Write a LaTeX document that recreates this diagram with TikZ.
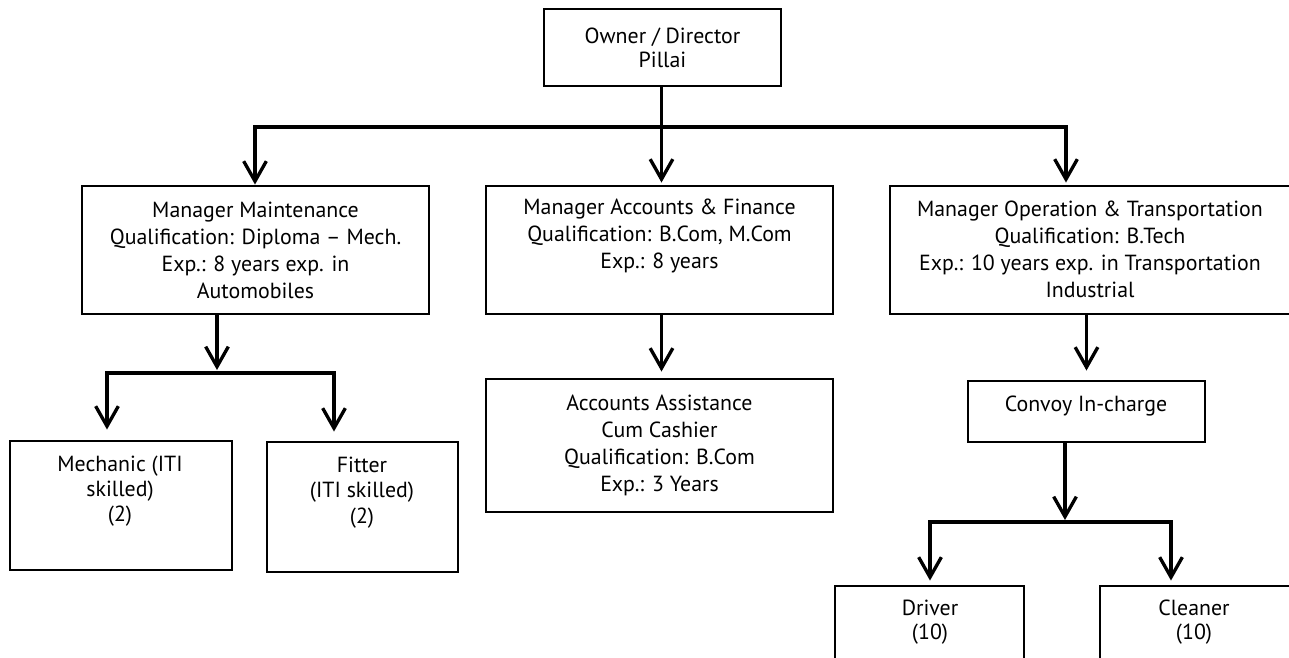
\documentclass[tikz,border=0pt]{standalone}
\usepackage{fontspec}
\setmainfont{PT Sans}
\usetikzlibrary{arrows.meta}
\begin{document}
\begin{tikzpicture}[x=0.75pt,y=-0.75pt,
  box/.style={draw=black,line width=2.2pt,rectangle,inner sep=0pt,align=center,font=\fontsize{16.4}{20.25}\selectfont},
  txt/.style={align=center,font=\fontsize{16.4}{20.25}\selectfont,inner sep=0pt},
  arr/.style={line width=2.5pt,line join=miter,-{Straight Barb[length=15pt,width=17pt]}},
]
\useasboundingbox (0,0) rectangle (1289,657);
\clip (0,0) rectangle (1289,657);
% boxes
\node[box,minimum width=177.75pt,minimum height=57.75pt,font=\fontsize{16.4}{18}\selectfont] (owner) at (662.5,47.5) {Owner / Director\\Pillai};
\node[box,minimum width=260.25pt,minimum height=96pt] (maint) at (255.5,250) {Manager Maintenance\\Qualification: Diploma – Mech.\\Exp.: 8 years exp. in\\Automobiles};
\node[box,minimum width=260.25pt,minimum height=96pt] (acct) at (659.5,250) {};
\node[txt] (acct-t) at (659.5,236) {Manager Accounts \& Finance\\Qualification: B.Com, M.Com\\Exp.: 8 years};
\node[box,minimum width=322.5pt,minimum height=96pt] (ops) at (1105,250) {};
\node[txt] (ops-t) at (1090,249.5) {Manager Operation \& Transportation\\Qualification: B.Tech\\Exp.: 10 years exp. in Transportation\\Industrial};
\node[box,minimum width=260.25pt,minimum height=99.75pt] (accass) at (659.5,445.5) {Accounts Assistance\\Cum Cashier\\Qualification: B.Com\\Exp.: 3 Years};
\node[box,minimum width=177.75pt,minimum height=45.75pt] (convoy) at (1086.5,411.5) {};
\node[txt] (convoy-t) at (1086,406) {Convoy In-charge};
\node[box,minimum width=166.5pt,minimum height=96.75pt] (mech) at (121,505.5) {};
\node[txt,font=\fontsize{16.4}{18.75}\selectfont] (mech-t) at (120,491.5) {Mechanic (ITI\\skilled)\\(2)};
\node[box,minimum width=143.25pt,minimum height=97.5pt] (fitter) at (362.5,507) {};
\node[txt,font=\fontsize{16.4}{19}\selectfont] (fitter-t) at (362,492.5) {Fitter\\(ITI skilled)\\(2)};
\node[box,minimum width=141.75pt,minimum height=85.5pt] (driver) at (929.5,643) {};
\node[txt,font=\fontsize{16.4}{18}\selectfont] (driver-t) at (930,622) {Driver\\(10)};
\node[box,minimum width=165pt,minimum height=85.5pt] (cleaner) at (1210,643) {};
\node[txt,font=\fontsize{16.4}{18}\selectfont] (cleaner-t) at (1194,622) {Cleaner\\(10)};
% junctions
\coordinate (jc) at (661.5,127);
\coordinate (jl) at (255,127);
\coordinate (jr) at (1066,127);
\coordinate (mj) at (217,373);
\coordinate (ml) at (107,373);
\coordinate (mr) at (334,373);
\coordinate (cj) at (1065,522);
\coordinate (cl) at (930,522);
\coordinate (cr) at (1171,522);
% connectors
\draw[arr,shorten >=1.5pt] (owner.south -| jc) -- (jc |- acct.north);
\draw[arr] (jc) -- (jl) -- (jl |- maint.north);
\draw[arr,shorten >=1.5pt] (jc) -- (jr) -- (jr |- ops.north);
\draw[arr,shorten >=2.25pt] (maint.south -| mj) -- (mj);
\draw[arr,shorten >=7.5pt] (mj) -- (ml) -- (ml |- mech.north);
\draw[arr,shorten >=6.75pt] (mj) -- (mr) -- (mr |- fitter.north);
\draw[arr,shorten >=4.5pt] (acct.south -| jc) -- (jc |- accass.north);
\draw[arr,shorten >=6.75pt] (convoy.north |- ops.south) -- (convoy.north);
\draw[arr,shorten >=1.5pt] (convoy.south -| cj) -- (cj);
\draw[arr,shorten >=3pt] (cj) -- (cl) -- (cl |- driver.north);
\draw[arr,shorten >=3pt] (cj) -- (cr) -- (cr |- cleaner.north);
\end{tikzpicture}
\end{document}
